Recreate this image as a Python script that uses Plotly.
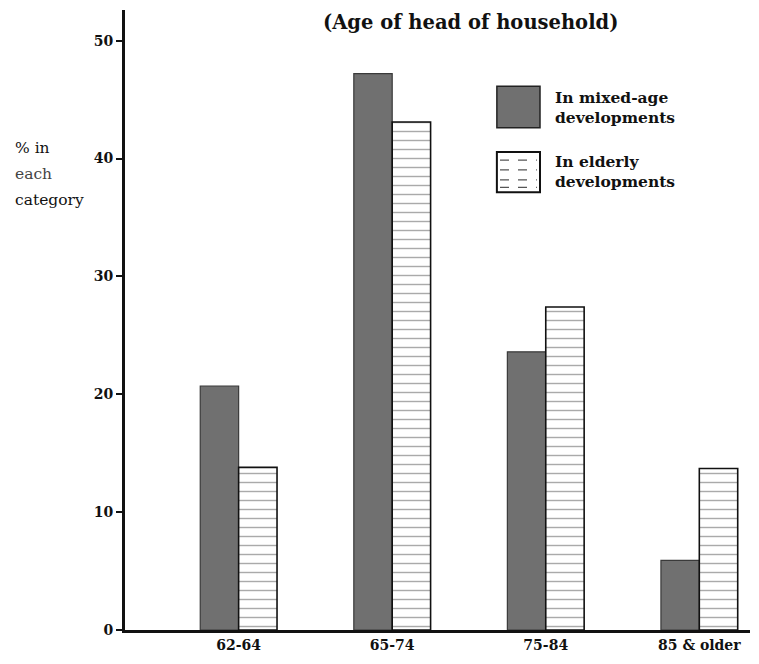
import plotly.graph_objects as go

categories = ["62-64", "65-74", "75-84", "85 & older"]
mixed_age = [20.7, 47.2, 23.6, 5.9]
elderly = [13.8, 43.1, 27.4, 13.7]
y_ticks = [0, 10, 20, 30, 40, 50]
title_text = "(Age of head of household)"
y_label_lines = ["% in", "each", "category"]
legend_names = ["In mixed-age<br>developments", "In elderly<br>developments"]

FONT = "DejaVu Serif"

fig = go.Figure()
fig.add_trace(go.Bar(
    x=categories, y=mixed_age, name="In mixed-age developments",
    marker=dict(color="#707070", line=dict(color="#3a3a3a", width=1.2)),
    showlegend=False,
))
fig.add_trace(go.Bar(
    x=categories, y=elderly, name="In elderly developments",
    marker=dict(color="white", line=dict(color="#111", width=1.6),
                pattern=dict(shape="-", fgcolor="#555", bgcolor="white", size=9, solidity=0.16)),
    showlegend=False,
))

fig.update_layout(
    width=759, height=664,
    margin=dict(l=117, r=17, t=2, b=42),
    paper_bgcolor="white", plot_bgcolor="white",
    barmode="group", bargap=0.5, bargroupgap=0,
    font=dict(family=FONT, color="#111"),
    showlegend=False,
    xaxis=dict(range=[-0.74, 3.33], showgrid=False, zeroline=False,
               showline=True, linecolor="#111", linewidth=2.5,
               ticks="", tickfont=dict(family=FONT, size=14, color="#111", weight="bold")),
    yaxis=dict(range=[0, 52.6], tickvals=y_ticks, showgrid=False, zeroline=False,
               showline=True, linecolor="#111", linewidth=3,
               ticks="outside", ticklen=6, tickwidth=1.5, tickcolor="#111",
               tickfont=dict(family=FONT, size=14, color="#111", weight="bold")),
)

# title
fig.add_annotation(text=title_text, xref="paper", yref="paper", x=0.552, y=0.98,
                   showarrow=False, xanchor="center", yanchor="middle",
                   font=dict(family=FONT, size=19.5, color="#111", weight="bold"))
# y label
for i, (line, yy) in enumerate(zip(y_label_lines, [0.778, 0.736, 0.694])):
    fig.add_annotation(text=line, xref="paper", yref="paper", x=-0.179, y=yy,
                       showarrow=False, xanchor="left", yanchor="middle", align="left",
                       font=dict(family=FONT, size=15.5, color="#444" if i == 1 else "#111"))

# legend swatches
x0, x1 = 0.595, 0.664
fig.add_shape(type="rect", xref="paper", yref="paper", x0=x0, x1=x1, y0=0.810, y1=0.877,
              fillcolor="#707070", line=dict(color="#222", width=1.5))
fig.add_shape(type="rect", xref="paper", yref="paper", x0=x0, x1=x1, y0=0.706, y1=0.771,
              fillcolor="white", line=dict(color="#111", width=2))
for yy in [0.758, 0.742, 0.726, 0.714]:
    fig.add_shape(type="line", xref="paper", yref="paper", x0=x0 + 0.005, x1=x1 - 0.005,
                  y0=yy, y1=yy, line=dict(color="#555", width=1.3, dash="dash"))

fig.add_annotation(text=legend_names[0], xref="paper", yref="paper", x=0.684, y=0.843,
                   showarrow=False, xanchor="left", yanchor="middle", align="left",
                   font=dict(family=FONT, size=15.5, color="#111", weight="bold"))
fig.add_annotation(text=legend_names[1], xref="paper", yref="paper", x=0.684, y=0.739,
                   showarrow=False, xanchor="left", yanchor="middle", align="left",
                   font=dict(family=FONT, size=15.5, color="#111", weight="bold"))

fig.write_html("out.html")
